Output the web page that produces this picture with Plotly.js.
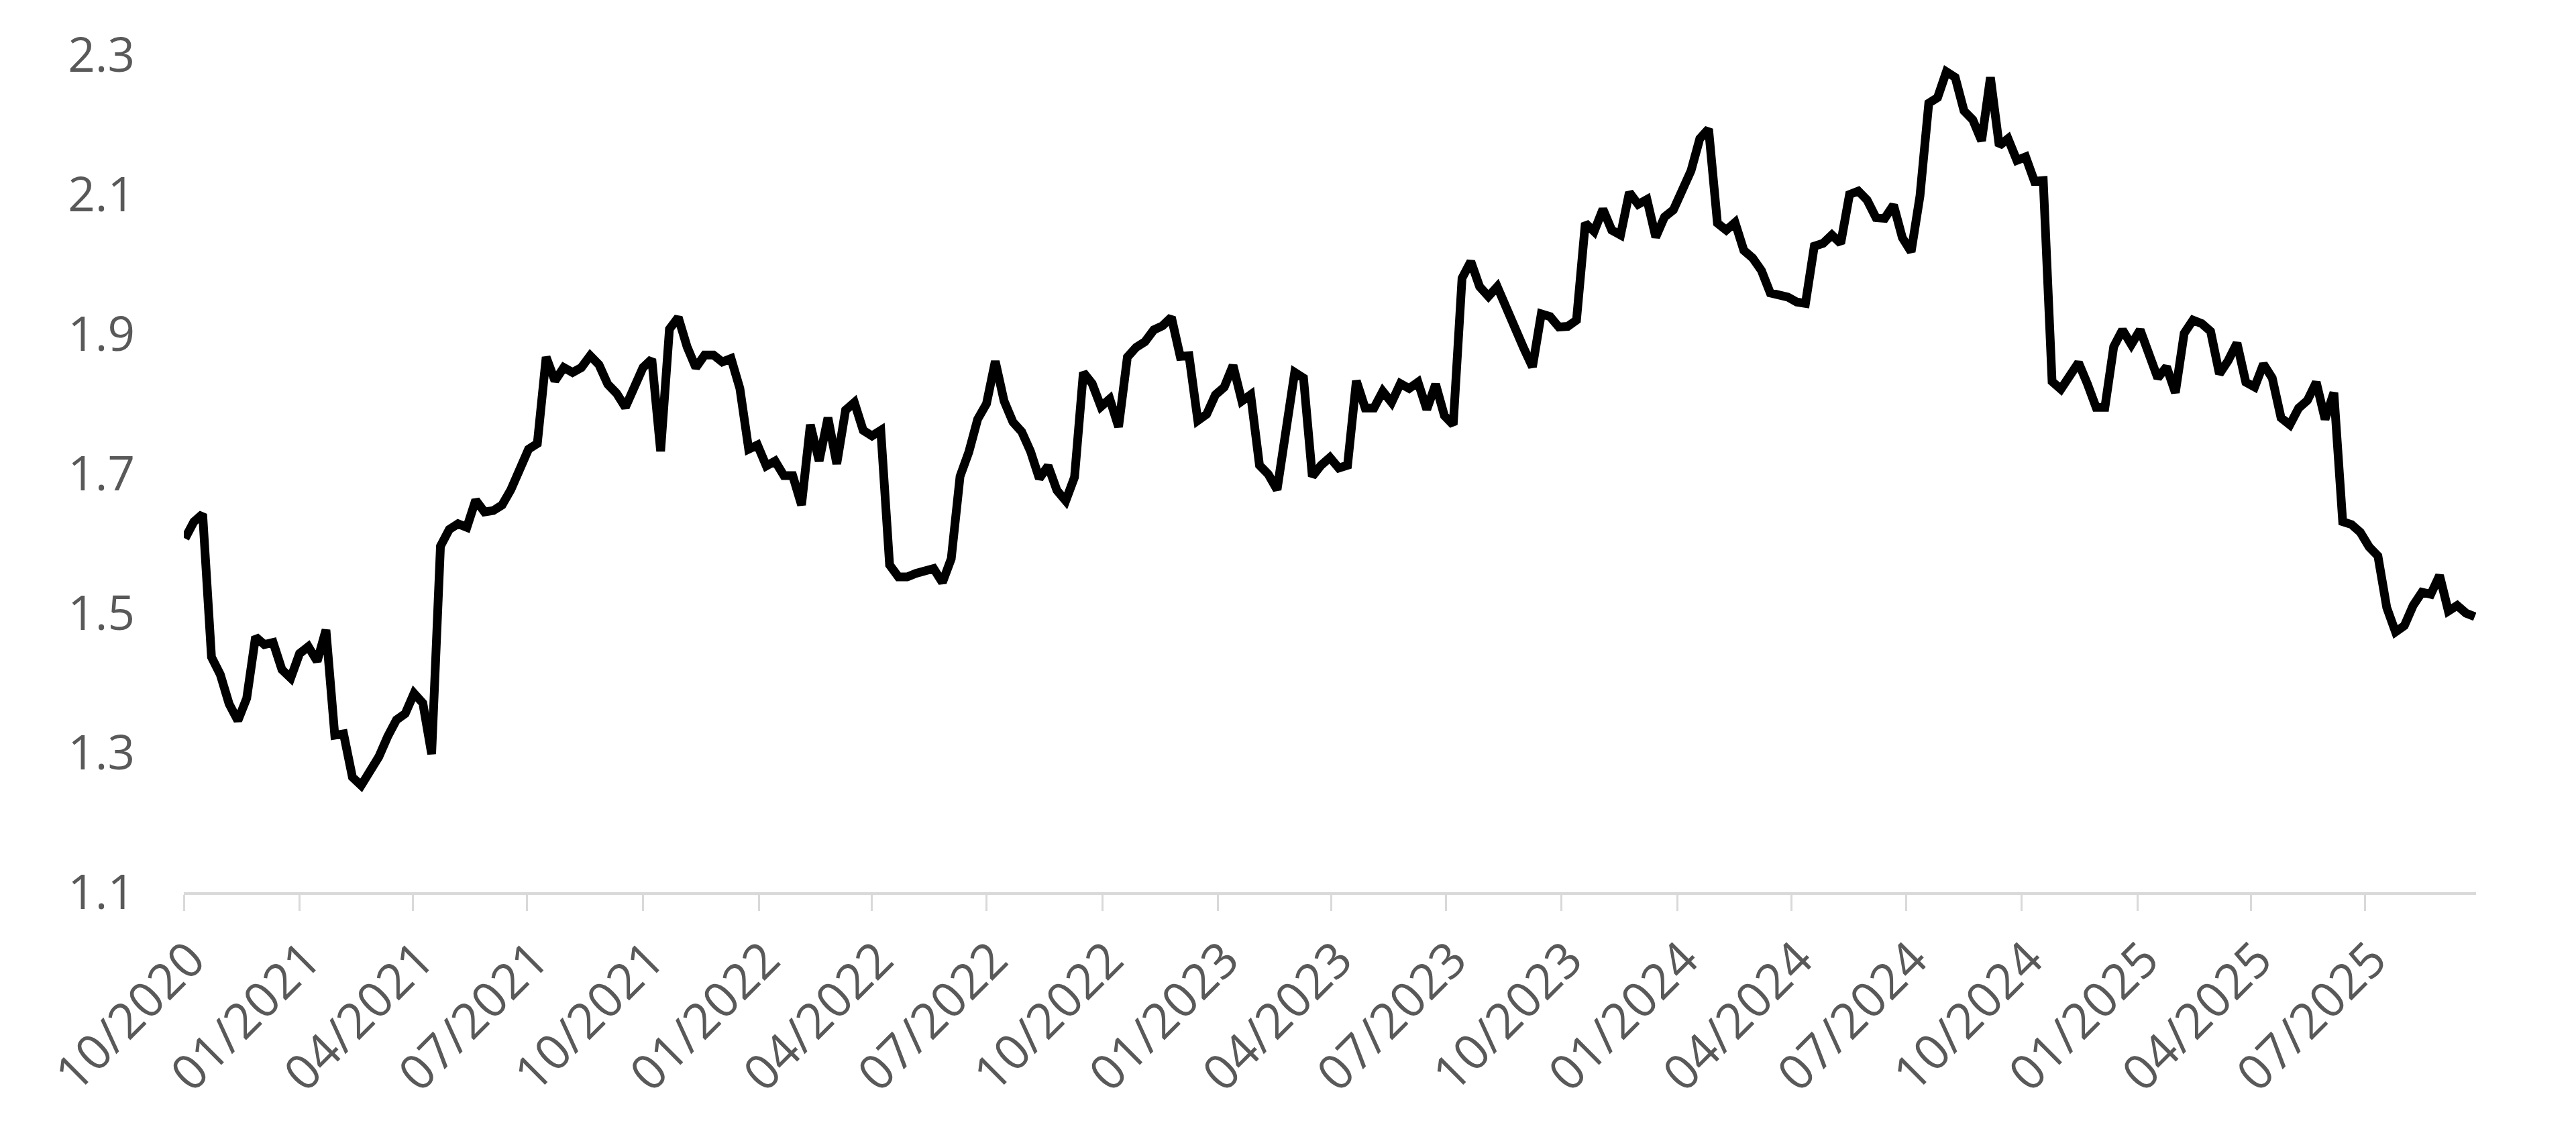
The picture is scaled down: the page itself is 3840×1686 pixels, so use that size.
<!DOCTYPE html>
<html>
<head>
<meta charset="utf-8">
<script src="https://cdn.plot.ly/plotly-3.0.1.min.js"></script>
<style>
  html, body { margin: 0; padding: 0; background: #ffffff; }
  #chart { width: 3840px; height: 1686px; }
</style>
</head>
<body>
<div id="chart"></div>
<script>
// Weekly series, first observation in early October 2020
const startDate = "2020-10-02";
const values = [
  1.607, 1.631, 1.642, 1.437, 1.412, 1.370, 1.346, 1.378, 1.466, 1.455,
  1.458, 1.419, 1.407, 1.442, 1.452, 1.431, 1.476, 1.325, 1.327, 1.265,
  1.253, 1.275, 1.294, 1.323, 1.347, 1.356, 1.385, 1.371, 1.298, 1.596,
  1.620, 1.628, 1.623, 1.662, 1.645, 1.647, 1.655, 1.677, 1.705, 1.735,
  1.743, 1.867, 1.833, 1.852, 1.845, 1.852, 1.869, 1.856, 1.828, 1.815,
  1.795, 1.822, 1.852, 1.864, 1.732, 1.907, 1.924, 1.882, 1.852, 1.870,
  1.870, 1.860, 1.865, 1.822, 1.735, 1.741, 1.711, 1.718, 1.697, 1.697,
  1.655, 1.770, 1.718, 1.780, 1.714, 1.791, 1.802, 1.762, 1.754, 1.762,
  1.569, 1.552, 1.552, 1.557, 1.560, 1.564, 1.544, 1.578, 1.696, 1.731,
  1.778, 1.800, 1.861, 1.804, 1.774, 1.760, 1.732, 1.693, 1.711, 1.676,
  1.661, 1.695, 1.845, 1.829, 1.796, 1.807, 1.767, 1.867, 1.881, 1.889,
  1.906, 1.912, 1.924, 1.868, 1.869, 1.776, 1.785, 1.813, 1.824, 1.855,
  1.804, 1.813, 1.712, 1.699, 1.677, 1.754, 1.845, 1.837, 1.696, 1.712,
  1.723, 1.708, 1.712, 1.833, 1.794, 1.794, 1.818, 1.802, 1.829, 1.822,
  1.831, 1.792, 1.828, 1.783, 1.770, 1.980, 2.004, 1.968, 1.954, 1.968,
  1.937, 1.905, 1.880, 1.853, 1.929, 1.925, 1.910, 1.911, 1.920, 2.059,
  2.047, 2.079, 2.049, 2.042, 2.103, 2.086, 2.093, 2.039, 2.068, 2.078,
  2.110, 2.134, 2.180, 2.194, 2.059, 2.049, 2.060, 2.020, 2.009, 1.991,
  1.959, 1.956, 1.953, 1.946, 1.944, 2.026, 2.030, 2.042, 2.030, 2.100,
  2.105, 2.092, 2.067, 2.066, 2.085, 2.038, 2.018, 2.098, 2.231, 2.239,
  2.276, 2.268, 2.220, 2.207, 2.177, 2.268, 2.170, 2.180, 2.149, 2.154,
  2.119, 2.120, 1.832, 1.821, 1.841, 1.859, 1.829, 1.795, 1.795, 1.882,
  1.906, 1.885, 1.906, 1.867, 1.837, 1.853, 1.816, 1.901, 1.920, 1.915,
  1.904, 1.843, 1.862, 1.887, 1.831, 1.824, 1.857, 1.837, 1.780, 1.770,
  1.794, 1.805, 1.831, 1.778, 1.816, 1.631, 1.627, 1.616, 1.595, 1.582,
  1.508, 1.473, 1.482, 1.511, 1.530, 1.527, 1.554, 1.503, 1.511, 1.500,
  1.495
];
const xTickVals = ["2020-10-01","2021-01-01","2021-04-01","2021-07-01","2021-10-01",
  "2022-01-01","2022-04-01","2022-07-01","2022-10-01","2023-01-01","2023-04-01",
  "2023-07-01","2023-10-01","2024-01-01","2024-04-01","2024-07-01","2024-10-01",
  "2025-01-01","2025-04-01","2025-07-01"];
const xTickText = ["10/2020","01/2021","04/2021","07/2021","10/2021","01/2022",
  "04/2022","07/2022","10/2022","01/2023","04/2023","07/2023","10/2023","01/2024",
  "04/2024","07/2024","10/2024","01/2025","04/2025","07/2025"];
const yTickVals = [1.1, 1.3, 1.5, 1.7, 1.9, 2.1, 2.3];
const yTickText = ["1.1", "1.3", "1.5", "1.7", "1.9", "2.1", "2.3"];

// weekly dates matching the values
const dates = [];
const d0 = new Date(startDate + "T00:00:00Z");
for (let i = 0; i < values.length; i++) {
  const d = new Date(d0.getTime() + i * 7 * 86400000);
  dates.push(d.toISOString().slice(0, 10));
}

const trace = {
  x: dates,
  y: values,
  type: "scatter",
  mode: "lines",
  line: { color: "#000000", width: 13 },
  hoverinfo: "skip"
};

const FONT = "Open Sans, Noto Sans, sans-serif";

const layout = {
  width: 3840,
  height: 1686,
  paper_bgcolor: "#ffffff",
  plot_bgcolor: "#ffffff",
  margin: { l: 274, r: 149, t: 82, b: 356 },
  showlegend: false,
  font: { family: FONT, color: "#595959", size: 72 },
  xaxis: {
    type: "date",
    range: ["2020-10-01", "2025-09-27"],
    tickmode: "array",
    tickvals: xTickVals,
    ticktext: xTickText,
    tickangle: -45,
    ticks: "outside",
    ticklen: 24,
    tickwidth: 3,
    tickcolor: "#d9d9d9",
    showline: true,
    linecolor: "#d9d9d9",
    linewidth: 4,
    showgrid: false,
    zeroline: false,
    ticklabelstandoff: 0,
    ticklabelshift: 10,
    tickfont: { family: FONT, color: "#595959", size: 73 }
  },
  yaxis: {
    range: [1.1, 2.3],
    tickmode: "array",
    tickvals: yTickVals,
    ticktext: yTickText,
    ticks: "",
    showline: false,
    showgrid: false,
    zeroline: false,
    ticklabelstandoff: 72,
    tickfont: { family: FONT, color: "#595959", size: 71 }
  }
};

Plotly.newPlot("chart", [trace], layout, { staticPlot: true, displayModeBar: false });
</script>
</body>
</html>
